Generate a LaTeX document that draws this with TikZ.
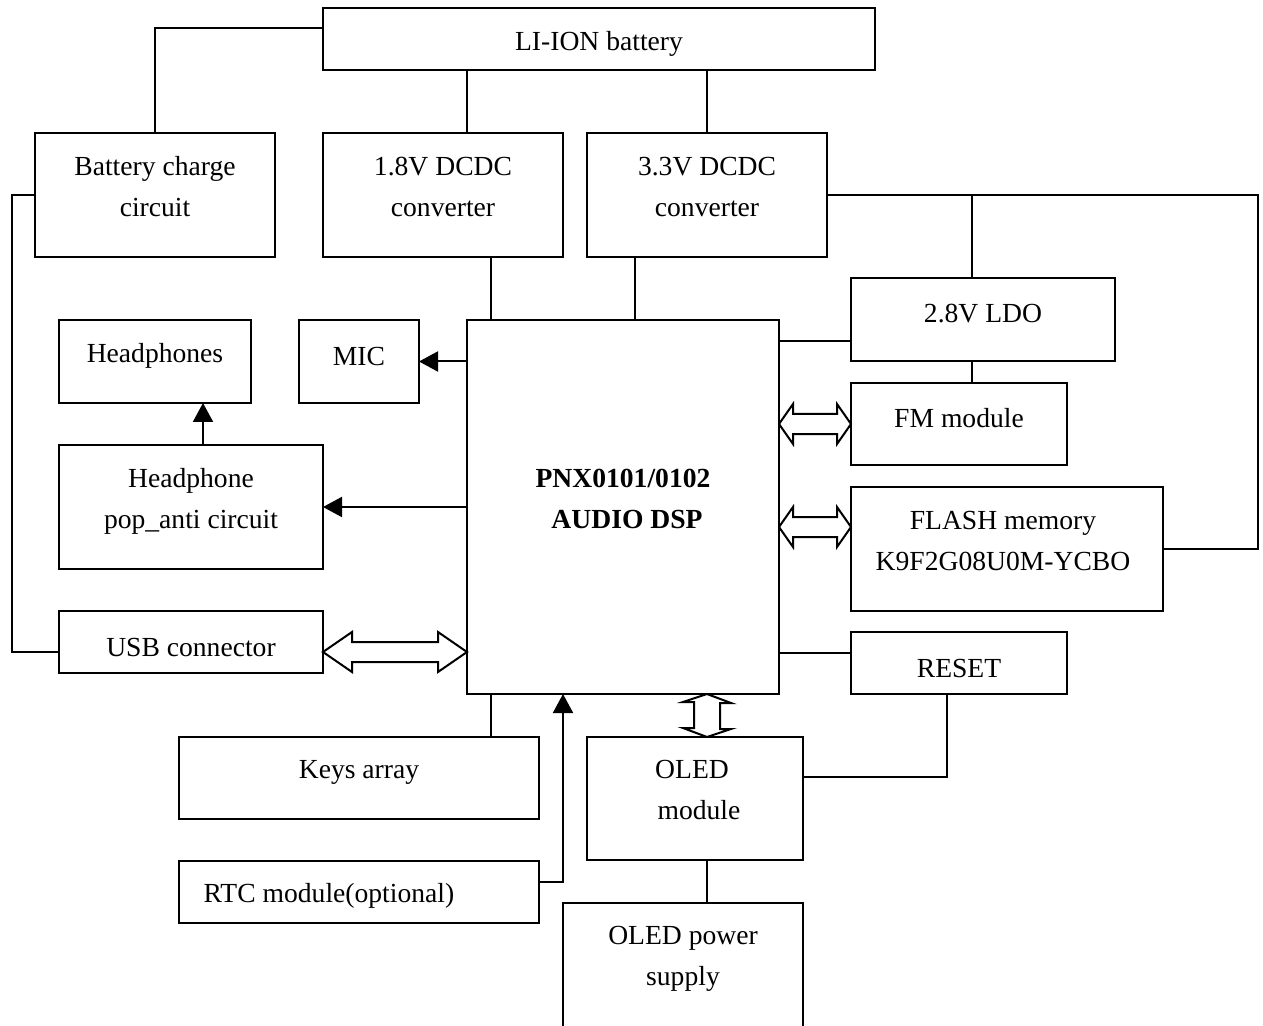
\documentclass[tikz,border=0pt]{standalone}
\usepackage{fontspec}
\setmainfont{Liberation Serif}
\usetikzlibrary{arrows.meta,calc}
\tikzset{
  box/.style={draw, line width=1pt, inner sep=0pt, outer sep=0pt},
  txt/.style={align=center, inner sep=0pt, font=\fontsize{13.8}{20.5}\selectfont},
  wire/.style={line width=1pt},
  arr/.style={line width=1pt, -{Triangle[length=9.5pt,width=10pt]}},
  dbl/.style={line width=1pt, fill=white, line join=miter}
}
\begin{document}
\begin{tikzpicture}[x=0.5pt,y=-0.5pt]
\clip (0,0) rectangle (1263,1026);
\fill[white] (0,0) rectangle (1263,1026);
% boxes
\node[box, minimum width=276pt, minimum height=31pt] (bat) at (599,39) {};
\node[box, minimum width=120pt, minimum height=62pt] (chg) at (155,195) {};
\node[box, minimum width=120pt, minimum height=62pt] (dc18) at (443,195) {};
\node[box, minimum width=120pt, minimum height=62pt] (dc33) at (707,195) {};
\node[box, minimum width=132pt, minimum height=41.5pt] (ldo) at (983,319.5) {};
\node[box, minimum width=108pt, minimum height=41pt] (fm) at (959,424) {};
\node[box, minimum width=156pt, minimum height=62pt] (flash) at (1007,549) {};
\node[box, minimum width=108pt, minimum height=31pt] (reset) at (959,663) {};
\node[box, minimum width=156pt, minimum height=187pt] (dsp) at (623,507) {};
\node[box, minimum width=60pt, minimum height=41.5pt] (mic) at (359,361.5) {};
\node[box, minimum width=96pt, minimum height=41.5pt] (hp) at (155,361.5) {};
\node[box, minimum width=132pt, minimum height=62pt] (pop) at (191,507) {};
\node[box, minimum width=132pt, minimum height=31pt] (usb) at (191,642) {};
\node[box, minimum width=180pt, minimum height=41pt] (keys) at (359,778) {};
\node[box, minimum width=108pt, minimum height=61.5pt] (oled) at (695,798.5) {};
\node[box, minimum width=180pt, minimum height=31pt] (rtc) at (359,892) {};
\node[box, minimum width=120pt, minimum height=123.5pt] (olps) at (683,1026.5) {};
% texts
\node[txt] (tbat) at (599,44) {LI-ION battery};
\node[txt] (tchg) at (155,187) {Battery charge\\circuit};
\node[txt] (tdc18) at (443,187) {1.8V DCDC\\converter};
\node[txt] (tdc33) at (707,187) {3.3V DCDC\\converter};
\node[txt] (tldo) at (983,314) {2.8V LDO};
\node[txt] (tfm) at (959,418) {FM module};
\node[txt] (tflash) at (1003,540.5) {FLASH memory\\K9F2G08U0M-YCBO};
\node[txt] (treset) at (959,668) {RESET};
\node[txt, font=\fontsize{13.8}{20.5}\selectfont\bfseries] (tdsp) at (623,499) {PNX0101/0102\\\hspace*{4pt}AUDIO DSP};
\node[txt] (tmic) at (359,356) {MIC};
\node[txt] (thp) at (155,356) {Headphones};
\node[txt] (tpop) at (191,501) {Headphone\\pop\_anti circuit};
\node[txt] (tusb) at (191,647) {USB connector};
\node[txt] (tkeys) at (359,772) {Keys array};
\node[txt] (toled) at (698,790) {\hspace*{-6pt}OLED\\\hspace*{1pt}module};
\node[txt] (trtc) at (329,896) {RTC module(optional)};
\node[txt] (tolps) at (683,959) {OLED power\\supply};
% power wires
\coordinate (batL) at ([yshift=5.5pt]bat.west);
\draw[wire] (chg.north) |- (batL);
\draw[wire] ([xshift=12pt]dc18.north) -- ([xshift=12pt]dc18.north |- bat.south);
\draw[wire] (dc33.north) -- (dc33.north |- bat.south);
\coordinate (usbL) at ([yshift=-5pt]usb.west);
\draw[wire] (chg.west) -- ++(-23,0) |- (usbL);
\draw[wire] ([xshift=24pt]dc18.south) -- ([xshift=24pt]dc18.south |- dsp.north);
\draw[wire] ([xshift=-36pt]dc33.south) -- ([xshift=-36pt]dc33.south |- dsp.north);
\draw[wire] (dc33.east) -- ++(431,0) |- (flash.east);
\draw[wire] ([xshift=-5.5pt]ldo.north) -- ([xshift=-5.5pt]ldo.north |- dc33.east);
\draw[wire] ([xshift=-5.5pt]ldo.south) -- ([xshift=-5.5pt]ldo.south |- fm.north);
\coordinate (ldoL) at ([yshift=-10.75pt]ldo.west);
\draw[wire] (ldoL) -- (dsp.east |- ldoL);
\coordinate (resL) at ([yshift=5pt]reset.west);
\draw[wire] (resL) -- (dsp.east |- resL);
% signal arrows
\draw[arr] (dsp.west |- mic.east) -- (mic.east);
\draw[arr] (dsp.west) -- (pop.east);
\draw[arr] ([xshift=6pt]pop.north) -- ([xshift=6pt]pop.north |- hp.south);
\draw[wire] ([xshift=66pt]keys.north) -- ([xshift=66pt]keys.north |- dsp.south);
\draw[arr] ([yshift=5pt]rtc.east) -| ([xshift=-30pt]dsp.south);
\draw[wire] ([yshift=10.75pt]oled.east) -| ([xshift=-6pt]reset.south);
\draw[wire] ([xshift=6pt]oled.south) -- ([xshift=6pt]oled.south |- olps.north);
% hollow double arrows
\coordinate (fmA) at (dsp.east |- fm.west);
\draw[dbl] (fmA) -- ++(14,-20) -- ++(0,10) -- ++(44,0) -- ++(0,-10) -- (fm.west)
  -- ++(-14,20) -- ++(0,-10) -- ++(-44,0) -- ++(0,10) -- cycle;
\coordinate (flB) at ([yshift=11pt]flash.west);
\coordinate (flA) at (dsp.east |- flB);
\draw[dbl] (flA) -- ++(14,-20) -- ++(0,10) -- ++(44,0) -- ++(0,-10) -- (flB)
  -- ++(-14,20) -- ++(0,-10) -- ++(-44,0) -- ++(0,10) -- cycle;
\coordinate (usA) at ([yshift=-5pt]usb.east);
\coordinate (usB) at (dsp.west |- usA);
\draw[dbl] (usA) -- ++(29,-20) -- ++(0,10) -- ++(86,0) -- ++(0,-10) -- (usB)
  -- ++(-29,20) -- ++(0,-10) -- ++(-86,0) -- ++(0,10) -- cycle;
\coordinate (olB) at ([xshift=6pt]oled.north);
\coordinate (olA) at (olB |- dsp.south);
\draw[dbl] (olA) -- ++(-24,8) -- ++(11,0) -- ++(0,26) -- ++(-11,0) -- (olB)
  -- ++(24,-8) -- ++(-11,0) -- ++(0,-26) -- ++(11,0) -- cycle;
\end{tikzpicture}
\end{document}
